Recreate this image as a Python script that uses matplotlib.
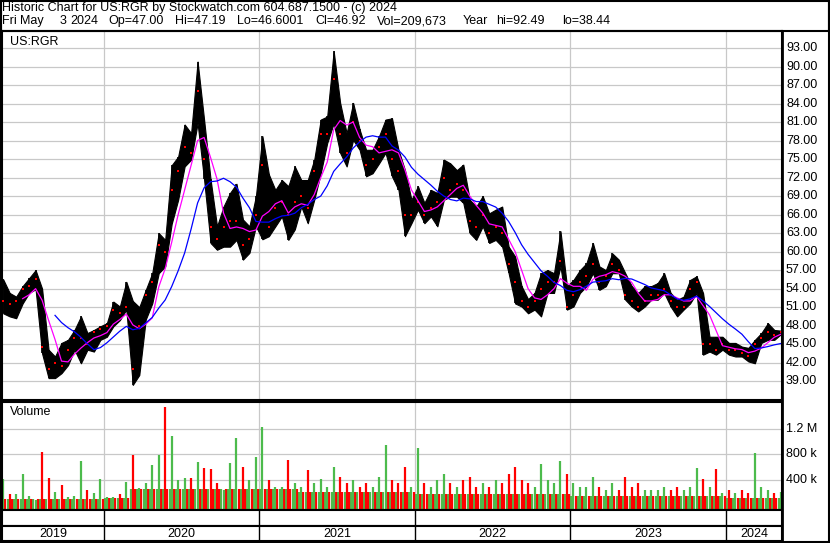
import numpy as np
import pandas as pd
import matplotlib
matplotlib.use("Agg")
import matplotlib.pyplot as plt
from matplotlib.patches import Rectangle

plt.rcParams['font.family'] = ['Liberation Sans', 'DejaVu Sans']

# half-month periods from May 2019 to May 3 2024
high = [55.5, 53.3, 52.7, 54.4, 55.7, 57.0, 54.0, 44.1, 43.0, 45.2,
        45.7, 47.3, 49.5, 46.8, 47.3, 47.9, 48.4, 51.9, 51.1, 55.1,
        52.0, 51.0, 53.8, 56.5, 63.0, 61.9, 74.0, 75.4, 80.6, 79.2,
        90.8, 81.4, 71.7, 64.1, 67.3, 69.5, 71.0, 65.2, 64.1, 69.0,
        78.7, 72.5, 70.0, 71.6, 70.6, 73.8, 71.6, 71.6, 74.9, 81.4,
        81.9, 92.5, 84.1, 79.2, 84.1, 79.8, 76.5, 76.5, 78.7, 81.4,
        81.6, 76.5, 73.2, 68.4, 70.6, 67.9, 70.0, 69.5, 74.9, 74.3,
        73.2, 74.1, 68.4, 67.3, 69.0, 66.2, 66.8, 67.3, 60.8, 59.2,
        54.4, 52.3, 53.3, 56.5, 57.0, 56.5, 63.3, 54.4, 55.4, 57.0,
        58.1, 61.4, 57.6, 57.0, 59.7, 58.7, 56.5, 54.4, 53.3, 54.4,
        54.4, 54.9, 56.5, 53.3, 52.2, 52.7, 55.4, 56.0, 53.3, 46.2,
        46.2, 46.2, 45.2, 45.2, 44.6, 44.4, 45.7, 46.8, 48.4, 47.3,
        47.19]
low = [50.0, 49.5, 49.2, 51.6, 53.3, 53.9, 43.5, 39.5, 39.5, 40.3,
       41.6, 44.1, 41.9, 44.1, 43.8, 45.7, 46.2, 47.9, 48.9, 50.6,
       38.4, 40.0, 49.0, 51.6, 56.5, 57.6, 64.5, 68.4, 73.8, 74.9,
       80.8, 71.7, 61.4, 60.3, 60.8, 60.8, 61.9, 58.7, 59.8, 64.1,
       62.0, 62.5, 64.1, 65.7, 61.9, 63.6, 67.3, 64.6, 68.4, 72.7,
       77.6, 80.8, 76.0, 73.8, 78.1, 76.5, 72.2, 72.7, 74.3, 76.0,
       72.2, 70.0, 62.5, 64.6, 66.8, 64.6, 65.7, 64.1, 68.4, 68.9,
       68.9, 67.9, 63.0, 61.9, 64.1, 61.4, 61.9, 60.8, 56.5, 51.6,
       51.1, 50.0, 50.6, 49.5, 53.3, 53.3, 57.6, 50.6, 51.1, 53.3,
       54.4, 56.5, 53.8, 54.4, 56.5, 56.5, 52.2, 51.1, 50.3, 51.1,
       52.2, 52.2, 53.3, 51.1, 49.5, 50.6, 51.6, 53.3, 43.3, 43.8,
       43.3, 44.1, 43.3, 43.0, 43.0, 42.2, 41.9, 45.2, 45.7, 45.7,
       46.6]
close = [52.0, 51.5, 52.0, 54.0, 54.5, 55.5, 44.5, 41.0, 42.0, 41.5,
         44.0, 46.0, 46.0, 45.0, 47.0, 47.5, 48.0, 50.5, 50.0, 51.0,
         41.0, 48.0, 53.0, 55.0, 61.0, 60.0, 70.0, 73.0, 77.0, 76.0,
         86.0, 75.0, 64.0, 62.0, 64.0, 65.0, 65.0, 61.0, 62.0, 66.0,
         74.0, 64.0, 67.0, 68.0, 66.0, 68.0, 69.0, 67.0, 73.0, 79.0,
         79.0, 88.0, 79.0, 76.0, 81.0, 78.0, 74.0, 75.0, 77.0, 79.0,
         75.0, 73.0, 66.0, 66.0, 68.0, 66.0, 67.0, 68.0, 72.0, 70.0,
         71.0, 70.0, 65.0, 64.0, 66.0, 63.0, 64.0, 63.0, 58.0, 55.0,
         52.0, 51.0, 52.0, 54.0, 55.0, 55.0, 58.5, 51.0, 53.0, 55.0,
         56.0, 58.0, 55.0, 56.0, 58.0, 57.0, 53.0, 52.0, 51.0, 52.0,
         53.0, 53.0, 54.0, 52.0, 51.0, 51.0, 54.0, 55.0, 45.0, 45.0,
         44.0, 45.0, 44.0, 44.0, 43.5, 43.0, 45.0, 46.0, 47.0, 46.5,
         46.92]
# largest daily volume in each half-month, and the typical daily volume (thousands)
vol_peak = [413, 186, 186, 496, 155, 100, 840, 430, 222, 326,
            134, 155, 700, 248, 196, 413, 145, 134, 186, 377,
            790, 274, 351, 636, 790, 1540, 1090, 403, 430, 430,
            688, 584, 569, 351, 248, 662, 1050, 610, 403, 765,
            1230, 403, 300, 300, 713, 362, 300, 560, 350, 420,
            300, 600, 450, 350, 400, 300, 350, 300, 450, 950,
            400, 350, 600, 300, 900, 350, 300, 400, 500, 350,
            300, 400, 450, 300, 350, 300, 400, 350, 500, 600,
            400, 350, 300, 650, 400, 350, 700, 500, 350, 300,
            300, 450, 300, 250, 350, 250, 450, 300, 350, 250,
            250, 250, 300, 250, 300, 250, 300, 590, 420, 300,
            575, 200, 250, 200, 250, 200, 820, 300, 250, 200,
            210]
vol_base = [110] * 16 + [130] * 4 + [260] * 26 + [220] * 18 + [180] * 24 + [160] * 24 + [130] * 9

vol_peak = np.array(vol_peak) * 1000
vol_base = np.array(vol_base) * 1000

periods = pd.date_range("2019-05-01", periods=len(close), freq="SMS")
df = pd.DataFrame({"high": high, "low": low, "close": close}, index=periods)
df["ma_fast"] = df["close"].rolling(4).mean()
df["ma_slow"] = df["close"].rolling(9).mean()
x = np.arange(len(df))
up = df["close"].diff().fillna(0) >= 0

# year boundaries (first half-month of January)
new_year = [i - 0.5 for i, d in enumerate(periods) if d.month == 1 and d.day == 1]
years = ["2019", "2020", "2021", "2022", "2023", "2024"]

W, H = 830, 543
fig = plt.figure(figsize=(W / 100, H / 100), dpi=100)


def px_axes(l, t, r, b):
    return fig.add_axes([l / W, 1 - b / H, (r - l) / W, (b - t) / H])


x0 = (2 - 3.2) / 6.48
x1 = (782 - 3.2) / 6.48
grid_c = "#c8c8c8"
fs = 9

# header
fig.text(2 / W, 1 - 2 / H, "Historic Chart for US:RGR by Stockwatch.com 604.687.1500 - (c) 2024",
         fontsize=fs, va="top", ha="left")
header2 = [("Fri", 2), ("May", 20), ("3", 60), ("2024", 70), ("Op=47.00", 108), ("Hi=47.19", 175),
           ("Lo=46.6001", 237), ("Cl=46.92", 315), ("Vol=209,673", 377), ("Year", 463),
           ("hi=92.49", 496), ("lo=38.44", 562)]
for t, px in header2:
    fig.text(px / W, 1 - 15 / H, t, fontsize=fs, va="top", ha="left")

# price panel
ax = px_axes(2, 31, 782, 400)
ax.set_xlim(x0, x1)
ax.set_ylim(93 - 352 / 6.17, 93 + 17 / 6.17)
for p in range(39, 94, 3):
    ax.axhline(p, color=grid_c, lw=0.9, zorder=0)
for b in new_year:
    ax.axvline(b, color=grid_c, lw=0.9, zorder=0)
ax.fill_between(x, df["low"], df["high"], color="black", lw=0.8, edgecolor="black", zorder=2)
ax.vlines(x, df["low"], df["high"], color="black", lw=1.2, zorder=2)
ax.plot(x, df["close"], ls="none", marker="s", ms=1.6, mew=0, color="red", zorder=3)
ax.plot(x, df["ma_fast"], color="#ff00ff", lw=0.9, zorder=4)
ax.plot(x, df["ma_slow"], color="#0000ff", lw=0.9, zorder=4)
ax.set_xticks([])
ax.set_yticks([])
ax.text(8 / 780, 1 - 5 / 369, "US:RGR", transform=ax.transAxes, fontsize=fs, va="top")
for p in range(39, 94, 3):
    yy = 48 + (93 - p) * 6.17
    fig.text(786 / W, 1 - yy / H, f"{p:.2f}", fontsize=fs, va="center", ha="left")

# volume panel
axv = px_axes(2, 402, 782, 510)
floor = -4 * 400000 / 25.8
axv.set_xlim(x0, x1)
axv.set_ylim(floor, floor + 108 * 400000 / 25.8)
for v in [400000, 800000, 1200000]:
    axv.axhline(v, color=grid_c, lw=0.9, zorder=0)
for b in new_year:
    axv.axvline(b, color=grid_c, lw=0.9, zorder=0)
green = "#4cbb4c"
red = "#ff0000"
axv.vlines(x - 0.33, floor, vol_base, color=green, lw=1.6)
axv.vlines(x + 0.33, floor, vol_base, color=red, lw=1.6)
axv.vlines(x, floor, vol_peak, color=[green if u else red for u in up], lw=1.6)
axv.set_xticks([])
axv.set_yticks([])
axv.text(8 / 780, 1 - 4 / 108, "Volume", transform=axv.transAxes, fontsize=fs, va="top")
for lab, yy in [("1.2 M", 429), ("800 k", 454), ("400 k", 480)]:
    fig.text(786 / W, 1 - yy / H, lab, fontsize=fs, va="center", ha="left")

# date strips
axd1 = px_axes(2, 510, 782, 526)
axd2 = px_axes(2, 526, 782, 541)
edges = [x0] + new_year + [x1]
for a in (axd1, axd2):
    a.set_xlim(x0, x1)
    a.set_ylim(0, 1)
    a.set_xticks([])
    a.set_yticks([])
    for b in new_year:
        a.axvline(b, color="black", lw=1.0)
for i, yr in enumerate(years):
    axd2.text((edges[i] + edges[i + 1]) / 2, 0.45, yr, ha="center", va="center", fontsize=fs)

for a in (ax, axv, axd1, axd2):
    for s in a.spines.values():
        s.set_linewidth(1.5)

# outer frame lines
fig.add_artist(Rectangle((0.5 / W, 1 / H), 828 / W, 541 / H, transform=fig.transFigure,
                         fill=False, lw=1.5, ec="black"))
fig.add_artist(Rectangle((0.5 / W, 1 - 31 / H), 828 / W, 31 / H, transform=fig.transFigure,
                         fill=False, lw=1.5, ec="black"))
fig.add_artist(plt.Line2D([782 / W, 782 / W], [2 / H, 1 - 31 / H], transform=fig.transFigure,
                          lw=2, color="black"))

fig.savefig("out.png", dpi=100)
